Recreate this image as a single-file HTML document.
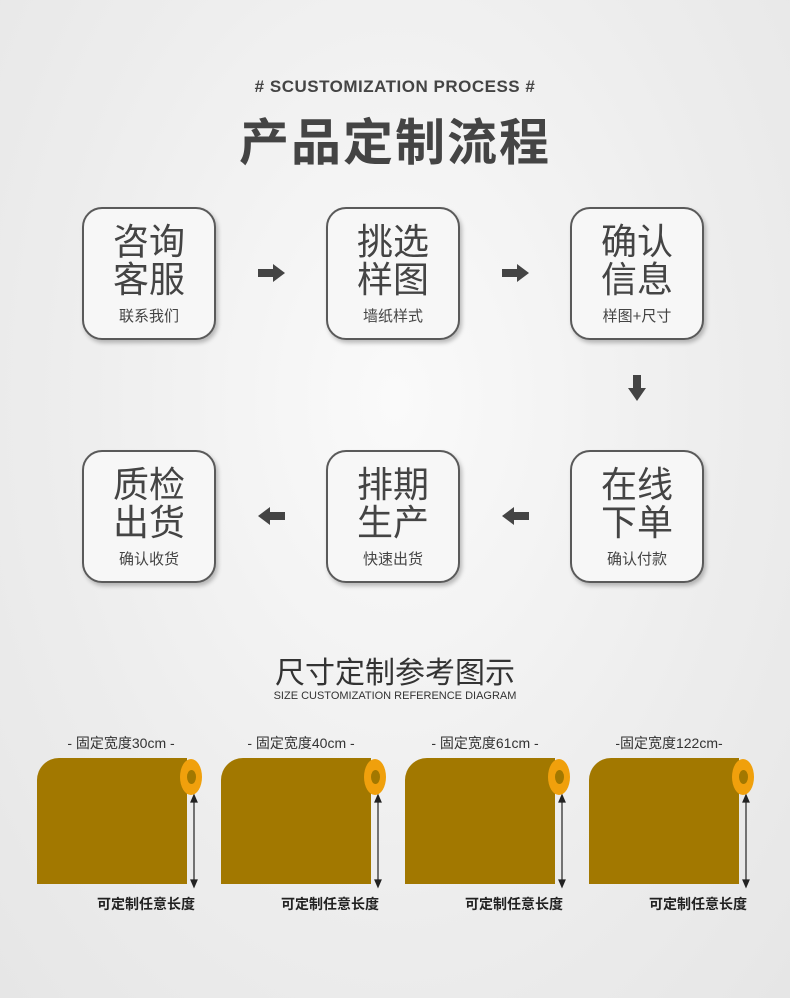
<!DOCTYPE html>
<html><head><meta charset="utf-8"><style>
body{margin:0;width:790px;height:998px;overflow:hidden;background:radial-gradient(ellipse at 50% 40%,#fafafa 0%,#ededed 60%,#e6e6e6 100%);font-family:"Liberation Sans","Noto Sans CJK SC",sans-serif;position:relative;color:#444}
.a{position:absolute}
.box{position:absolute;width:130px;height:129px;border:2px solid #5a5a5a;border-radius:20px;background:#f7f7f7;box-shadow:2px 3px 4px rgba(0,0,0,.25);text-align:center}
.box .b{font-size:36px;line-height:38px;margin-top:14px;color:#444}
.box .s{font-size:15px;color:#444;margin-top:6px}
.roll{position:absolute;top:758px;width:150px;height:126px;background:#a27800;border-top-left-radius:22px}
.cap{position:absolute;top:759px;width:22px;height:36px;border-radius:50%;background:#f0a00c}
.cap i{position:absolute;left:7px;top:11px;width:9px;height:14px;border-radius:50%;background:#a27800}
.lbl{position:absolute;top:733px;font-size:14px;color:#333;width:160px;text-align:center}
.bot{position:absolute;top:894px;font-size:14px;color:#222;font-weight:bold}
</style></head><body>
<div class="a" style="top:77px;left:0;width:790px;text-align:center;font-size:17px;font-weight:bold;color:#444;letter-spacing:.5px"># SCUSTOMIZATION PROCESS #</div>
<div class="a" style="top:103px;left:0;width:790px;text-align:center;font-size:50px;font-weight:bold;color:#444;letter-spacing:2px">产品定制流程</div>

<div class="box" style="left:82px;top:207px"><div class="b">咨询<br>客服</div><div class="s">联系我们</div></div>
<div class="box" style="left:326px;top:207px"><div class="b">挑选<br>样图</div><div class="s">墙纸样式</div></div>
<div class="box" style="left:570px;top:207px"><div class="b">确认<br>信息</div><div class="s">样图+尺寸</div></div>
<div class="box" style="left:82px;top:450px"><div class="b">质检<br>出货</div><div class="s">确认收货</div></div>
<div class="box" style="left:326px;top:450px"><div class="b">排期<br>生产</div><div class="s">快速出货</div></div>
<div class="box" style="left:570px;top:450px"><div class="b">在线<br>下单</div><div class="s">确认付款</div></div>

<svg class="a" style="left:0;top:0" width="790" height="998">
<g fill="#444">
<polygon points="258,269 273,269 273,264 285,273 273,282 273,277 258,277"/>
<polygon points="502,269 517,269 517,264 529,273 517,282 517,277 502,277"/>
<polygon points="633,375 641,375 641,388 646,388 637,401 628,388 633,388"/>
<polygon points="285,512 270,512 270,507 258,516 270,525 270,520 285,520"/>
<polygon points="529,512 514,512 514,507 502,516 514,525 514,520 529,520"/>
</g>
<g stroke="#222" stroke-width="1.2" fill="#222">
<line x1="194" y1="800" x2="194" y2="882"/><polygon points="191,802 194,795 197,802"/><polygon points="191,880 194,887 197,880"/>
<line x1="378" y1="800" x2="378" y2="882"/><polygon points="375,802 378,795 381,802"/><polygon points="375,880 378,887 381,880"/>
<line x1="562" y1="800" x2="562" y2="882"/><polygon points="559,802 562,795 565,802"/><polygon points="559,880 562,887 565,880"/>
<line x1="746" y1="800" x2="746" y2="882"/><polygon points="743,802 746,795 749,802"/><polygon points="743,880 746,887 749,880"/>
</g>
</svg>

<div class="a" style="top:648px;left:0;width:790px;text-align:center;font-size:30px;color:#333">尺寸定制参考图示</div>
<div class="a" style="top:690px;left:0;width:790px;text-align:center;font-size:11px;color:#333">SIZE CUSTOMIZATION REFERENCE DIAGRAM</div>

<div class="lbl" style="left:41px">- 固定宽度30cm -</div>
<div class="lbl" style="left:221px">- 固定宽度40cm -</div>
<div class="lbl" style="left:405px">- 固定宽度61cm -</div>
<div class="lbl" style="left:589px">-固定宽度122cm-</div>

<div class="roll" style="left:37px"></div><div class="cap" style="left:180px"><i></i></div>
<div class="roll" style="left:221px"></div><div class="cap" style="left:364px"><i></i></div>
<div class="roll" style="left:405px"></div><div class="cap" style="left:548px"><i></i></div>
<div class="roll" style="left:589px"></div><div class="cap" style="left:732px"><i></i></div>

<div class="bot" style="left:97px">可定制任意长度</div>
<div class="bot" style="left:281px">可定制任意长度</div>
<div class="bot" style="left:465px">可定制任意长度</div>
<div class="bot" style="left:649px">可定制任意长度</div>
</body></html>
